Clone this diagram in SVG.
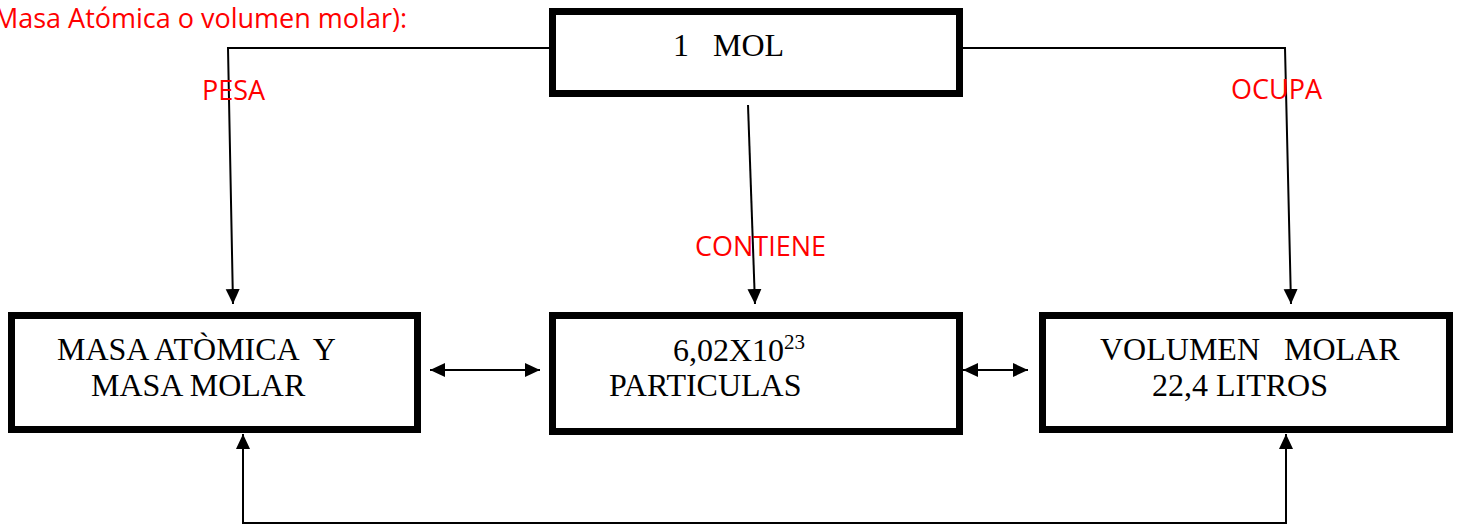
<svg xmlns="http://www.w3.org/2000/svg" width="1459" height="525" viewBox="0 0 1459 525">
<style>
.box{fill:#fff;stroke:#000;stroke-width:7}
.t{font-family:"Liberation Serif","Times New Roman",serif;font-size:32px;fill:#000;white-space:pre}
.r{font-family:"Open Sans","Noto Sans",sans-serif;font-size:27px;fill:#ff0000;white-space:pre}
.c{fill:none;stroke:#000;stroke-width:2}
</style>
<defs>
<marker id="ah" markerUnits="userSpaceOnUse" markerWidth="16" markerHeight="16" viewBox="0 0 16 16" refX="15" refY="8" orient="auto-start-reverse">
<path d="M0,1 L15,8 L0,15 Z" fill="#000"/>
</marker>
</defs>
<rect width="1459" height="525" fill="#fff"/>
<text class="r" x="407" y="28" text-anchor="end" font-size="28">Masa Atómica o volumen molar):</text>
<g id="connectors">
<path class="c" d="M553,48 H228 L233,304" marker-end="url(#ah)"/>
<path class="c" d="M959,48 H1285 L1291,304" marker-end="url(#ah)"/>
<path class="c" d="M748,105 L755,304" marker-end="url(#ah)"/>
<path class="c" d="M430,370 H540" marker-start="url(#ah)" marker-end="url(#ah)"/>
<path class="c" d="M963,370 H1028" marker-start="url(#ah)" marker-end="url(#ah)"/>
<path class="c" d="M243,434 V523 H1286 V434" marker-start="url(#ah)" marker-end="url(#ah)"/>
<text class="r" x="202" y="100">PESA</text>
<text class="r" x="1231" y="99">OCUPA</text>
<text class="r" x="695" y="256">CONTIENE</text>
</g>
<g id="mol">
<rect class="box" x="552.5" y="11.5" width="407" height="82"/>
<text class="t" x="673" y="56" xml:space="preserve">1   MOL</text>
</g>
<g id="masa">
<rect class="box" x="11.5" y="315.5" width="406" height="114"/>
<text class="t" x="57" y="360" xml:space="preserve">MASA ATÒMICA  Y</text>
<text class="t" x="91" y="396">MASA MOLAR</text>
</g>
<g id="particulas">
<rect class="box" x="552.5" y="315.5" width="407" height="116"/>
<text class="t" x="673" y="361">6,02X10<tspan font-size="21" dy="-12">23</tspan></text>
<text class="t" x="609" y="396">PARTICULAS</text>
</g>
<g id="volumen">
<rect class="box" x="1042.5" y="315.5" width="407" height="114"/>
<text class="t" x="1100" y="360" xml:space="preserve">VOLUMEN   MOLAR</text>
<text class="t" x="1152" y="396">22,4 LITROS</text>
</g>
</svg>
